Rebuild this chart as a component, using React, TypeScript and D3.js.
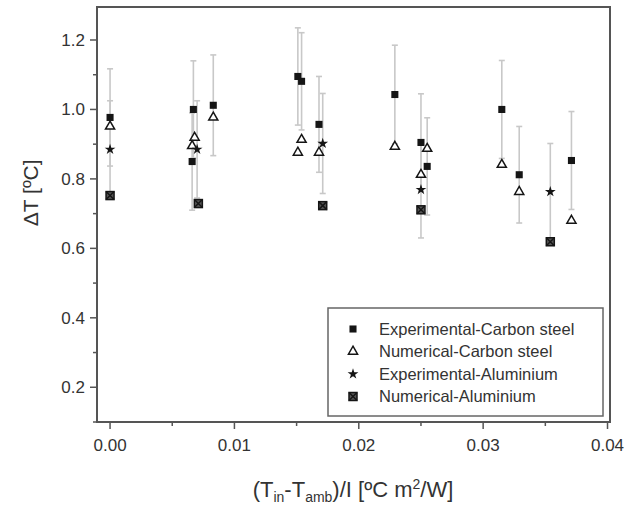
import React, { useEffect, useRef } from 'react';
import * as d3 from 'd3';

// values
const expCsX = [0.0, 0.0067, 0.0066, 0.0083, 0.0151, 0.0154, 0.0168, 0.0229, 0.025, 0.0255, 0.0315, 0.0329, 0.0371];
const expCsY = [0.977, 1.0, 0.85, 1.012, 1.095, 1.081, 0.957, 1.043, 0.905, 0.836, 1.0, 0.812, 0.853];
const expCsErr = [0.14, 0.14, 0.14, 0.145, 0.14, 0.14, 0.138, 0.142, 0.14, 0.14, 0.141, 0.139, 0.141];

const numCsX = [0.0, 0.0068, 0.0066, 0.0083, 0.0151, 0.0154, 0.0168, 0.0229, 0.025, 0.0255, 0.0315, 0.0329, 0.0371];
const numCsY = [0.951, 0.919, 0.895, 0.977, 0.876, 0.913, 0.876, 0.893, 0.812, 0.887, 0.841, 0.763, 0.68];

const expAlX = [0.0, 0.007, 0.0171, 0.025, 0.0354];
const expAlY = [0.885, 0.885, 0.902, 0.769, 0.763];
const expAlErr = [0.14, 0.14, 0.144, 0.139, 0.139];

const numAlX = [0.0, 0.0071, 0.0171, 0.025, 0.0354];
const numAlY = [0.752, 0.729, 0.723, 0.711, 0.619];

const xTicks = [0, 0.01, 0.02, 0.03, 0.04];
const yTicks = [0.2, 0.4, 0.6, 0.8, 1.0, 1.2];

const legendLabels = [
  'Experimental-Carbon steel',
  'Numerical-Carbon steel',
  'Experimental-Aluminium',
  'Numerical-Aluminium',
];

const W = 626, H = 511;
const FONT = 'Arial, "Liberation Sans", sans-serif';

const App = () => {
  const ref = useRef<SVGSVGElement | null>(null);

  useEffect(() => {
    if (!ref.current) return;
    const svg = d3.select(ref.current);
    svg.selectAll('*').remove();

    const left = 97, right = 610, top = 7, bottom = 422;
    const x = d3.scaleLinear().domain([-0.00105, 0.0402]).range([left, right]);
    const y = d3.scaleLinear().domain([0.1, 1.295]).range([bottom, top]);

    const axisColor = '#555';
    const markColor = '#151515';
    const errColor = '#c8c8c8';

    svg.append('rect').attr('width', W).attr('height', H).attr('fill', '#fff');

    // ticks, major and minor, pointing outward
    const g = svg.append('g');
    d3.range(0.1, 1.3, 0.1).forEach(v => {
      const major = Math.abs(v * 5 - Math.round(v * 5)) < 1e-6;
      g.append('line')
        .attr('x1', left - (major ? 7 : 4)).attr('x2', left)
        .attr('y1', y(v)).attr('y2', y(v))
        .attr('stroke', axisColor).attr('stroke-width', 1.5);
    });
    d3.range(0, 0.0401, 0.005).forEach(v => {
      const major = Math.abs(v * 100 - Math.round(v * 100)) < 1e-6;
      g.append('line')
        .attr('x1', x(v)).attr('x2', x(v))
        .attr('y1', bottom).attr('y2', bottom + (major ? 7 : 4))
        .attr('stroke', axisColor).attr('stroke-width', 1.5);
    });

    // frame
    svg.append('rect')
      .attr('x', left).attr('y', top)
      .attr('width', right - left).attr('height', bottom - top)
      .attr('fill', 'none').attr('stroke', axisColor).attr('stroke-width', 2);

    // tick labels
    svg.append('g').selectAll('text').data(yTicks).enter().append('text')
      .attr('x', left - 12).attr('y', d => y(d))
      .attr('dy', '0.35em').attr('text-anchor', 'end')
      .attr('font-family', FONT).attr('font-size', 17).attr('fill', '#333')
      .text(d => d.toFixed(1));
    svg.append('g').selectAll('text').data(xTicks).enter().append('text')
      .attr('x', d => x(d)).attr('y', bottom + 29)
      .attr('text-anchor', 'middle')
      .attr('font-family', FONT).attr('font-size', 17).attr('fill', '#333')
      .text(d => d.toFixed(2));

    // axis titles
    svg.append('text')
      .attr('transform', `translate(38,${y(0.76)}) rotate(-90)`)
      .attr('text-anchor', 'middle')
      .attr('font-family', FONT).attr('font-size', 21).attr('fill', '#333')
      .text('ΔT [ºC]');

    const xt = svg.append('text')
      .attr('x', 353).attr('y', 497)
      .attr('text-anchor', 'middle')
      .attr('font-family', FONT).attr('font-size', 22).attr('fill', '#333');
    xt.append('tspan').text('(T');
    xt.append('tspan').attr('font-size', 14).attr('dy', 5).text('in');
    xt.append('tspan').attr('dy', -5).text('-T');
    xt.append('tspan').attr('font-size', 14).attr('dy', 5).text('amb');
    xt.append('tspan').attr('dy', -5).text(')/I [ºC m');
    xt.append('tspan').attr('font-size', 14).attr('dy', -8).text('2');
    xt.append('tspan').attr('dy', 8).text('/W]');

    // error bars
    const errData = [
      ...expCsX.map((v, i) => ({ x: v, y: expCsY[i], e: expCsErr[i] })),
      ...expAlX.map((v, i) => ({ x: v, y: expAlY[i], e: expAlErr[i] })),
    ];
    const eg = svg.append('g').attr('stroke', errColor).attr('stroke-width', 1.6);
    errData.forEach(d => {
      const cx = x(d.x);
      eg.append('line').attr('x1', cx).attr('x2', cx).attr('y1', y(d.y + d.e)).attr('y2', y(d.y - d.e));
      [d.y + d.e, d.y - d.e].forEach(v => {
        eg.append('line').attr('x1', cx - 3).attr('x2', cx + 3).attr('y1', y(v)).attr('y2', y(v));
      });
    });

    // markers
    const square = d3.symbol().type(d3.symbolSquare).size(50);
    const tri = d3.symbol().type(d3.symbolTriangle).size(36);
    const star = d3.symbol().type(d3.symbolStar).size(36);

    const drawNumAl = (sel: any, cx: number, cy: number) => {
      const s = 4;
      sel.append('rect').attr('x', cx - s).attr('y', cy - s).attr('width', 2 * s).attr('height', 2 * s)
        .attr('fill', '#555').attr('stroke', markColor).attr('stroke-width', 1.5);
      sel.append('path').attr('d', `M${cx - s},${cy - s}L${cx + s},${cy + s}M${cx + s},${cy - s}L${cx - s},${cy + s}`)
        .attr('stroke', markColor).attr('stroke-width', 1.5);
    };

    const mg = svg.append('g');
    numAlX.forEach((v, i) => drawNumAl(mg, x(v), y(numAlY[i])));
    numCsX.forEach((v, i) => {
      mg.append('path').attr('d', tri).attr('transform', `translate(${x(v)},${y(numCsY[i])})`)
        .attr('fill', '#fff').attr('stroke', markColor).attr('stroke-width', 1.5);
    });
    expAlX.forEach((v, i) => {
      mg.append('path').attr('d', star).attr('transform', `translate(${x(v)},${y(expAlY[i])})`)
        .attr('fill', markColor);
    });
    expCsX.forEach((v, i) => {
      mg.append('path').attr('d', square).attr('transform', `translate(${x(v)},${y(expCsY[i])})`)
        .attr('fill', markColor);
    });

    // legend
    const lg = svg.append('g');
    lg.append('rect').attr('x', 328).attr('y', 308).attr('width', 275).attr('height', 108)
      .attr('fill', '#fff').attr('stroke', '#666').attr('stroke-width', 1.5);
    legendLabels.forEach((lab, i) => {
      const cy = 329 + i * 22.5;
      const mx = 353;
      if (i === 0) lg.append('path').attr('d', square).attr('transform', `translate(${mx},${cy})`).attr('fill', markColor);
      if (i === 1) lg.append('path').attr('d', tri).attr('transform', `translate(${mx},${cy})`)
        .attr('fill', '#fff').attr('stroke', markColor).attr('stroke-width', 1.5);
      if (i === 2) lg.append('path').attr('d', star).attr('transform', `translate(${mx},${cy})`).attr('fill', markColor);
      if (i === 3) drawNumAl(lg, mx, cy);
      lg.append('text').attr('x', 379).attr('y', cy).attr('dy', '0.35em')
        .attr('font-family', FONT).attr('font-size', 16.5).attr('fill', '#333')
        .text(lab);
    });
  }, []);

  return <svg ref={ref} width={W} height={H} style={{ position: 'absolute', left: 0, top: 0 }} />;
};

export default App;
